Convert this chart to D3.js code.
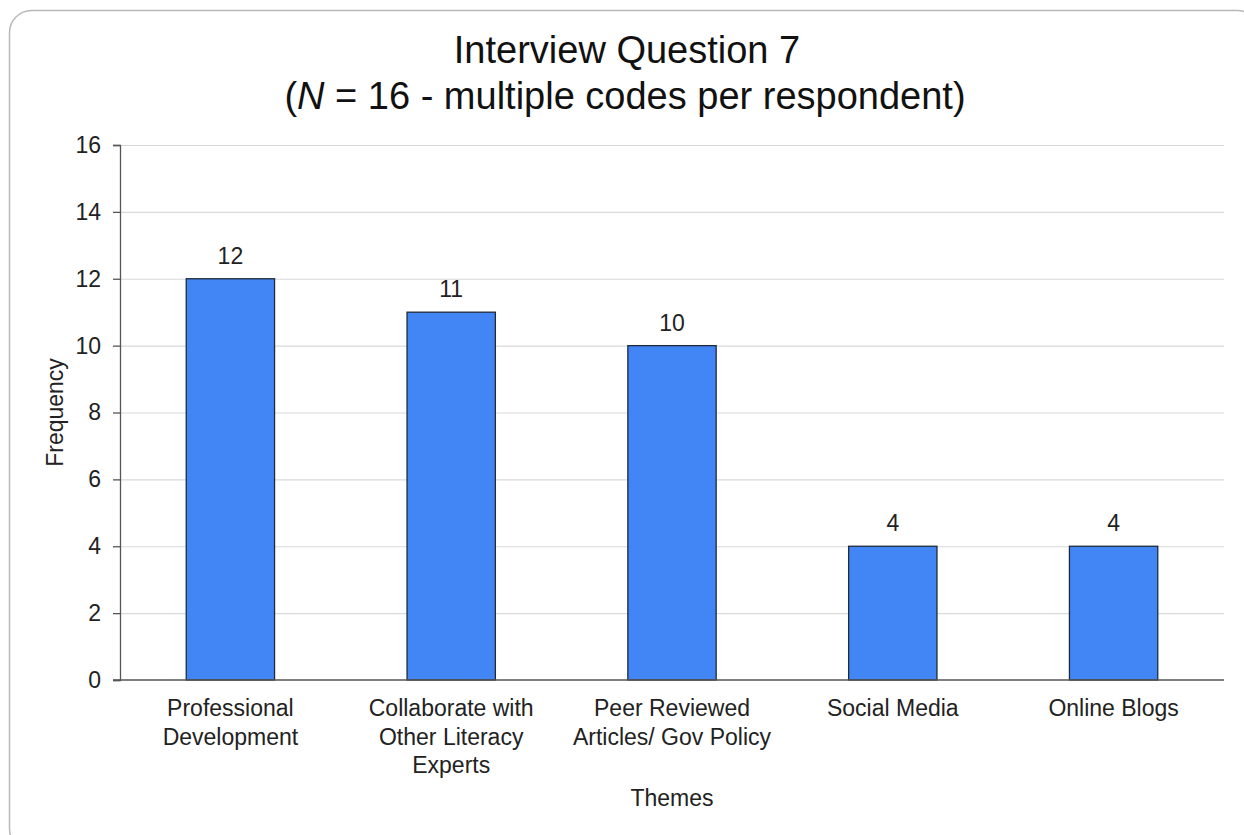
<!DOCTYPE html>
<html>
<head>
<meta charset="utf-8">
<script src="https://cdn.jsdelivr.net/npm/d3@7"></script>
<style>
  body { margin: 0; background: #fff; }
  svg { display: block; font-family: "Liberation Sans", Arial, sans-serif; }
</style>
</head>
<body>
<svg width="1244" height="835"></svg>
<script>
// data
var themes = [
  ["Professional", "Development"],
  ["Collaborate with", "Other Literacy", "Experts"],
  ["Peer Reviewed", "Articles/ Gov Policy"],
  ["Social Media"],
  ["Online Blogs"]
];
var frequency = [12, 11, 10, 4, 4];
var yTicks = [0, 2, 4, 6, 8, 10, 12, 14, 16];

var svg = d3.select("svg");
var margin = { top: 145, right: 20, bottom: 155, left: 120 };
var width = +svg.attr("width") - margin.left - margin.right;
var height = +svg.attr("height") - margin.top - margin.bottom;
var fs = 23;

// card outline with rounded corners (runs past the right and bottom edge)
svg.append("rect")
  .attr("x", 9.5).attr("y", 10.5)
  .attr("width", 1250).attr("height", 840)
  .attr("rx", 22)
  .attr("fill", "none")
  .attr("stroke", "#b8b8b8")
  .attr("stroke-width", 1.5);

var g = svg.append("g").attr("transform", "translate(" + margin.left + "," + margin.top + ")");

var idx = d3.range(frequency.length);
var x = d3.scaleBand().domain(idx).range([0, width]).paddingInner(0.6).paddingOuter(0.3);
var y = d3.scaleLinear().domain([0, 16]).range([height, 0]);

// gridlines
g.append("g")
  .selectAll("line")
  .data(yTicks.filter(function (d) { return d > 0; }))
  .join("line")
  .attr("x1", 0).attr("x2", width)
  .attr("y1", function (d) { return y(d) + 0.5; })
  .attr("y2", function (d) { return y(d) + 0.5; })
  .attr("stroke", "#d9d9d9")
  .attr("stroke-width", 1.2);

// bars
g.append("g")
  .selectAll("rect")
  .data(idx)
  .join("rect")
  .attr("x", function (i) { return x(i); })
  .attr("y", function (i) { return y(frequency[i]); })
  .attr("width", x.bandwidth())
  .attr("height", function (i) { return y(0) - y(frequency[i]); })
  .attr("fill", "#4285f4")
  .attr("stroke", "#1f2a3a")
  .attr("stroke-width", 1.3);

// value labels
g.append("g")
  .selectAll("text")
  .data(idx)
  .join("text")
  .attr("x", function (i) { return x(i) + x.bandwidth() / 2; })
  .attr("y", function (i) { return y(frequency[i]) - 15; })
  .attr("text-anchor", "middle")
  .attr("font-size", fs)
  .attr("fill", "#222")
  .text(function (i) { return frequency[i]; });

// y axis
var yAxis = g.append("g")
  .call(d3.axisLeft(y).tickValues(yTicks).tickSize(7).tickPadding(12));
yAxis.select(".domain").attr("stroke", "#555").attr("stroke-width", 1.3);
yAxis.selectAll(".tick line").attr("stroke", "#555").attr("stroke-width", 1.3);
yAxis.selectAll(".tick text").attr("font-size", fs).attr("fill", "#222")
  .attr("font-family", "Liberation Sans, Arial, sans-serif");

// x baseline
g.append("line")
  .attr("x1", -7).attr("x2", width)
  .attr("y1", height).attr("y2", height)
  .attr("stroke", "#555").attr("stroke-width", 1.5);

// category labels
var xl = g.append("g")
  .selectAll("text")
  .data(idx)
  .join("text")
  .attr("x", function (i) { return x(i) + x.bandwidth() / 2; })
  .attr("y", height + 36)
  .attr("text-anchor", "middle")
  .attr("font-size", fs)
  .attr("fill", "#222");
xl.selectAll("tspan")
  .data(function (i) { return themes[i]; })
  .join("tspan")
  .attr("x", function () { return this.parentNode.getAttribute("x"); })
  .attr("dy", function (d, j) { return j === 0 ? 0 : 28.5; })
  .text(function (d) { return d; });

// axis titles
g.append("text")
  .attr("x", width / 2)
  .attr("y", height + 126)
  .attr("text-anchor", "middle")
  .attr("font-size", fs)
  .attr("fill", "#222")
  .text("Themes");

g.append("text")
  .attr("transform", "rotate(-90)")
  .attr("x", -height / 2)
  .attr("y", -57)
  .attr("text-anchor", "middle")
  .attr("font-size", fs)
  .attr("fill", "#222")
  .text("Frequency");

// title
var title = svg.append("g").attr("font-size", 38).attr("fill", "#111").attr("text-anchor", "middle");
title.append("text").attr("x", 627).attr("y", 63).text("Interview Question 7");
var t2 = title.append("text").attr("x", 625).attr("y", 109);
t2.append("tspan").text("(");
t2.append("tspan").attr("font-style", "italic").text("N");
t2.append("tspan").text(" = 16 - multiple codes per respondent)");
</script>
</body>
</html>
